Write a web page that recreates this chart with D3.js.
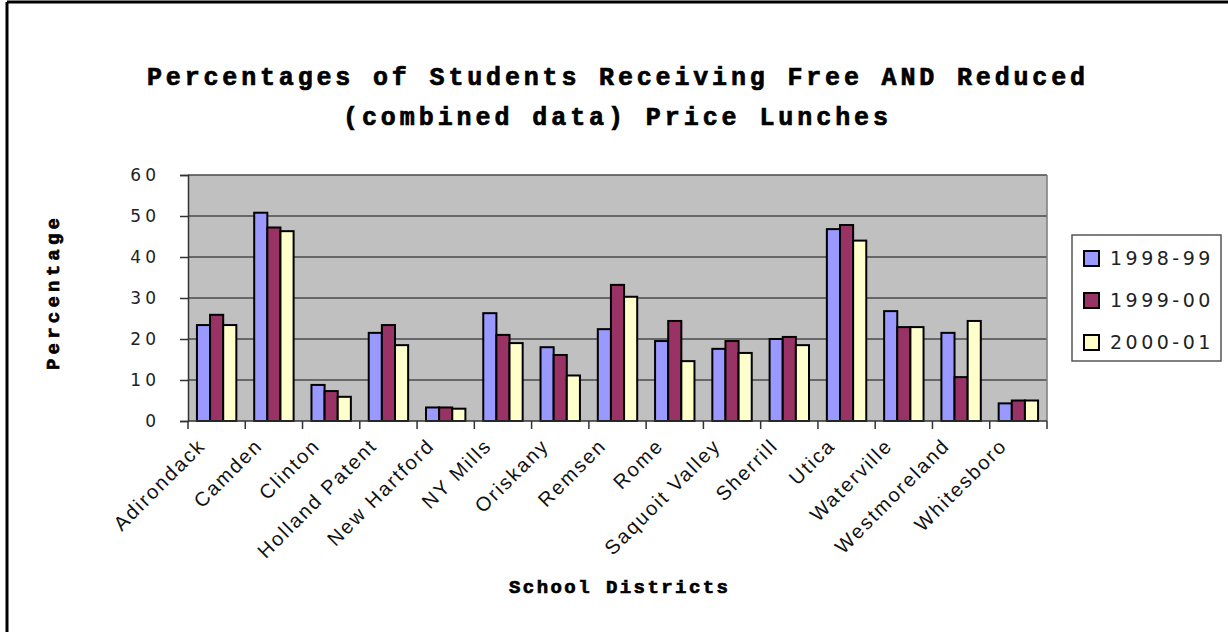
<!DOCTYPE html>
<html>
<head>
<meta charset="utf-8">
<script src="https://cdn.jsdelivr.net/npm/d3@7/dist/d3.min.js"></script>
<style>
  html, body { margin: 0; padding: 0; background: #fff; }
  svg { display: block; }
</style>
</head>
<body>
<svg id="chart" width="1228" height="632"></svg>
<script>
// School districts (x categories)
const districts = [
  "Adirondack", "Camden", "Clinton", "Holland Patent", "New Hartford",
  "NY Mills", "Oriskany", "Remsen", "Rome", "Saquoit Valley",
  "Sherrill", "Utica", "Waterville", "Westmoreland", "Whitesboro"
];
// School years (series)
const years = ["1998-99", "1999-00", "2000-01"];
// Percentage of students receiving free and reduced price lunches
const values1998 = [23.4, 50.8, 8.8, 21.5, 3.3, 26.3, 18.0, 22.4, 19.5, 17.6, 20.0, 46.8, 26.8, 21.5, 4.3];
const values1999 = [25.9, 47.2, 7.3, 23.4, 3.3, 21.0, 16.1, 33.2, 24.4, 19.5, 20.5, 47.8, 22.9, 10.7, 5.0];
const values2000 = [23.4, 46.3, 5.9, 18.5, 3.0, 19.0, 11.1, 30.3, 14.6, 16.6, 18.5, 44.0, 22.9, 24.4, 5.0];
const yTicks = [0, 10, 20, 30, 40, 50, 60];
const seriesColors = ["#9999FF", "#993366", "#FFFFCC"];

const series = [values1998, values1999, values2000];

const svg = d3.select("#chart");

// Frame around the chart
svg.append("line").attr("x1", 7).attr("x2", 1228).attr("y1", 2).attr("y2", 2)
  .attr("stroke", "#000").attr("stroke-width", 3);
svg.append("line").attr("x1", 7).attr("x2", 7).attr("y1", 2).attr("y2", 632)
  .attr("stroke", "#000").attr("stroke-width", 3);

const plot = { left: 188, right: 1047, top: 175, bottom: 421 };

const x = d3.scaleBand().domain(districts).range([plot.left, plot.right]).paddingInner(0).paddingOuter(0);
const xs = d3.scaleBand().domain(years).range([0, x.bandwidth()]).paddingInner(0).paddingOuter(0.68);
const y = d3.scaleLinear().domain([0, 60]).range([plot.bottom, plot.top]);

// Plot background
svg.append("rect")
  .attr("x", plot.left).attr("y", plot.top)
  .attr("width", plot.right - plot.left).attr("height", plot.bottom - plot.top)
  .attr("fill", "#C0C0C0");

// Gridlines
svg.append("g").selectAll("line").data(yTicks.filter(d => d > 0)).join("line")
  .attr("x1", plot.left).attr("x2", plot.right)
  .attr("y1", d => y(d)).attr("y2", d => y(d))
  .attr("stroke", "#4a4a4a").attr("stroke-width", 1.5);

// Right edge of the plot area
svg.append("line").attr("x1", plot.right).attr("x2", plot.right)
  .attr("y1", plot.top).attr("y2", plot.bottom)
  .attr("stroke", "#7a7a7a").attr("stroke-width", 1.5);

// Bars
const groups = svg.append("g").selectAll("g").data(districts).join("g")
  .attr("transform", d => `translate(${x(d)},0)`);
groups.selectAll("rect")
  .data((d, i) => years.map((yr, s) => ({ yr, s, v: series[s][i] })))
  .join("rect")
  .attr("x", d => xs(d.yr))
  .attr("y", d => y(d.v))
  .attr("width", xs.bandwidth())
  .attr("height", d => y(0) - y(d.v))
  .attr("fill", d => seriesColors[d.s])
  .attr("stroke", "#000")
  .attr("stroke-width", 2);

// Y axis
const yAxis = svg.append("g").attr("transform", `translate(${plot.left},0)`)
  .call(d3.axisLeft(y).tickValues(yTicks).tickSize(8).tickPadding(20).tickFormat(d3.format("d")));
yAxis.select(".domain").attr("stroke", "#333").attr("stroke-width", 1.5);
yAxis.selectAll(".tick line").attr("stroke", "#333").attr("stroke-width", 1.5);
yAxis.selectAll(".tick text")
  .attr("font-family", "'DejaVu Sans', sans-serif")
  .attr("font-size", 17)
  .attr("fill", "#222")
  .style("letter-spacing", "4px");

// X axis: ticks at category boundaries
const xAxisG = svg.append("g").attr("transform", `translate(0,${plot.bottom})`);
xAxisG.append("line").attr("x1", plot.left).attr("x2", plot.right)
  .attr("stroke", "#333").attr("stroke-width", 1.5);
const boundaries = districts.map(d => x(d)).concat([x(districts[districts.length - 1]) + x.bandwidth()]);
xAxisG.selectAll("line.tk").data(boundaries).join("line").attr("class", "tk")
  .attr("x1", d => d).attr("x2", d => d).attr("y1", 0).attr("y2", 8)
  .attr("stroke", "#333").attr("stroke-width", 1.5);

// Rotated district labels
svg.append("g").selectAll("text").data(districts).join("text")
  .attr("transform", d => `translate(${x(d) + x.bandwidth() / 2 - 10},447) rotate(-45)`)
  .attr("text-anchor", "end")
  .attr("font-family", "'Liberation Sans', Arial, sans-serif")
  .attr("font-size", 20)
  .attr("fill", "#111")
  .style("letter-spacing", "2px")
  .text(d => d);

// Title
const titleFont = "'Liberation Mono', 'Courier New', monospace";
function heavy(sel) {
  return sel.attr("font-family", titleFont).attr("font-weight", "bold")
    .attr("fill", "#000").attr("stroke", "#000").attr("stroke-width", 0.7)
    .attr("lengthAdjust", "spacing");
}
heavy(svg.append("text").attr("x", 147).attr("y", 85)
  .attr("font-size", 25).attr("textLength", 938))
  .text("Percentages of Students Receiving Free AND Reduced");
heavy(svg.append("text").attr("x", 343).attr("y", 125)
  .attr("font-size", 25).attr("textLength", 545))
  .text("(combined data) Price Lunches");

// Axis titles
heavy(svg.append("text").attr("x", 509).attr("y", 593)
  .attr("font-size", 19).attr("textLength", 219))
  .text("School Districts");
heavy(svg.append("text")
  .attr("transform", "translate(59,370) rotate(-90)")
  .attr("font-size", 19).attr("textLength", 152))
  .text("Percentage");

// Legend
const legend = svg.append("g");
legend.append("rect").attr("x", 1072).attr("y", 235).attr("width", 149).attr("height", 126)
  .attr("fill", "#fff").attr("stroke", "#555").attr("stroke-width", 1.5);
const items = legend.selectAll("g").data(years).join("g")
  .attr("transform", (d, i) => `translate(1084,${258 + i * 42})`);
items.append("rect").attr("x", 0).attr("y", -7).attr("width", 15).attr("height", 15)
  .attr("fill", (d, i) => seriesColors[i]).attr("stroke", "#000").attr("stroke-width", 2);
items.append("text").attr("x", 26).attr("y", 7)
  .attr("font-family", "'DejaVu Sans', sans-serif")
  .attr("font-size", 19)
  .attr("fill", "#222")
  .style("letter-spacing", "3.5px")
  .text(d => d);
</script>
</body>
</html>
